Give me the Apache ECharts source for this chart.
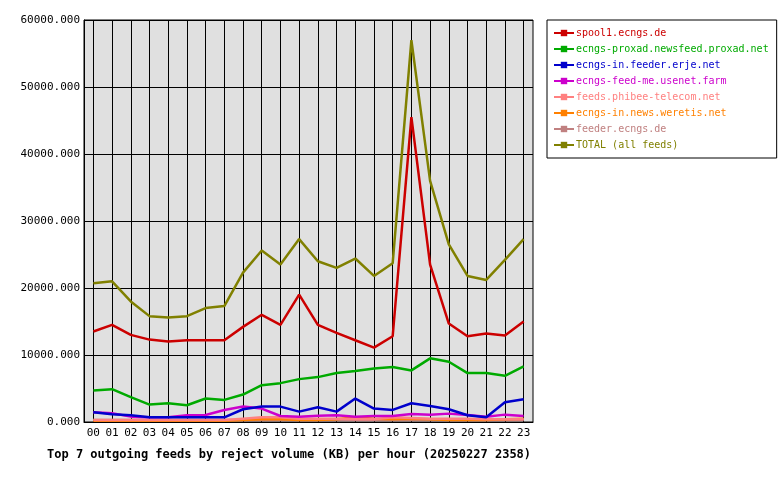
<!DOCTYPE html>
<html>
<head>
<meta charset="utf-8">
<script src="https://cdn.jsdelivr.net/npm/echarts@6/dist/echarts.min.js"></script>
<style>body{margin:0;background:#fff}#chart{width:780px;height:480px}</style>
</head>
<body>
<div id="chart"></div>
<script>
var hours = ['00','01','02','03','04','05','06','07','08','09','10','11','12','13','14','15','16','17','18','19','20','21','22','23'];
var feedNames = ['spool1.ecngs.de','ecngs-proxad.newsfeed.proxad.net','ecngs-in.feeder.erje.net','ecngs-feed-me.usenet.farm','feeds.phibee-telecom.net','ecngs-in.news.weretis.net','feeder.ecngs.de','TOTAL (all feeds)'];
var feedColors = ['#cc0000','#00aa00','#0000cc','#cc00cc','#ff8080','#ff8000','#c08080','#808000'];
var spool1 = [13500,14500,13000,12300,12000,12200,12200,12200,14200,16000,14500,19000,14500,13300,12200,11100,12800,45500,23500,14700,12800,13200,12900,15000];
var proxad = [4700,4900,3700,2600,2800,2500,3500,3300,4100,5500,5800,6400,6700,7300,7600,8000,8200,7700,9500,9000,7300,7300,6900,8300];
var erje = [1450,1150,1000,700,700,700,700,700,1900,2300,2300,1550,2200,1550,3500,2000,1800,2800,2400,1900,1000,700,2950,3400];
var usenetFarm = [1450,1300,800,700,700,1000,1050,1800,2300,2000,900,800,950,1000,800,900,900,1200,1100,1250,1050,800,1100,900];
var phibee = [300,300,300,300,300,300,300,300,500,700,700,500,500,500,400,400,700,600,500,500,500,400,400,400];
var weretis = [200,200,200,200,200,200,200,200,300,400,400,300,300,400,700,500,400,500,400,300,300,300,400,500];
var feederEcngs = [300,300,300,300,300,300,300,300,300,300,300,300,300,300,300,300,300,300,300,300,300,300,300,300];
var total = [20700,21000,18000,15800,15600,15800,17000,17300,22300,25600,23500,27300,24000,23000,24400,21800,23700,57000,36000,26500,21800,21200,24200,27300];
var feedValues = [spool1, proxad, erje, usenetFarm, phibee, weretis, feederEcngs, total];

var mono = 'DejaVu Sans Mono';
var series = feedNames.map(function (name, i) {
    return {
        name: name,
        type: 'line',
        data: feedValues[i],
        symbol: 'rect',
        symbolSize: 4,
        showSymbol: false,
        lineStyle: {width: 2.5, color: feedColors[i]},
        itemStyle: {color: feedColors[i]},
        z: i === 7 ? 3 : 10 - i
    };
});

var option = {
    animation: false,
    textStyle: {fontFamily: mono},
    grid: {left: 84, right: 247, top: 20, bottom: 58, backgroundColor: '#e0e0e0', show: true, borderColor: '#000', borderWidth: 1},
    title: {
        text: 'Top 7 outgoing feeds by reject volume (KB) per hour (20250227 2358)',
        left: 42, top: 444,
        textStyle: {fontFamily: mono, fontSize: 12, fontWeight: 'bold', color: '#000'}
    },
    legend: {
        orient: 'vertical',
        left: 547, top: 20,
        padding: [8, 8, 8, 6],
        itemGap: 6,
        itemWidth: 20, itemHeight: 8,
        borderColor: '#000', borderWidth: 1,
        textStyle: {fontFamily: mono, fontSize: 10, padding: [0, 0, 0, -3]},
        data: feedNames.map(function (n, i) { return {name: n, textStyle: {color: feedColors[i]}}; })
    },
    xAxis: [{
        type: 'category',
        data: hours,
        boundaryGap: true,
        axisLine: {lineStyle: {color: '#000'}},
        axisTick: {show: false},
        axisLabel: {color: '#000', fontSize: 11, fontFamily: mono, margin: 6},
        splitLine: {show: false}
    }, {
        type: 'value',
        min: 0, max: 48, interval: 1,
        position: 'bottom',
        axisLine: {show: false},
        axisTick: {show: false},
        axisLabel: {show: false},
        splitLine: {show: true, lineStyle: {color: ['transparent', '#000'], width: 1}}
    }],
    yAxis: {
        type: 'value',
        min: 0, max: 60000, interval: 10000,
        axisLine: {show: true, lineStyle: {color: '#000'}},
        axisTick: {show: false},
        axisLabel: {color: '#000', fontSize: 11, fontFamily: mono, margin: 4,
            formatter: function (v) { return v.toFixed(3); }},
        splitLine: {lineStyle: {color: '#000'}}
    },
    series: series
};

echarts.init(document.getElementById('chart')).setOption(option);
</script>
</body>
</html>
